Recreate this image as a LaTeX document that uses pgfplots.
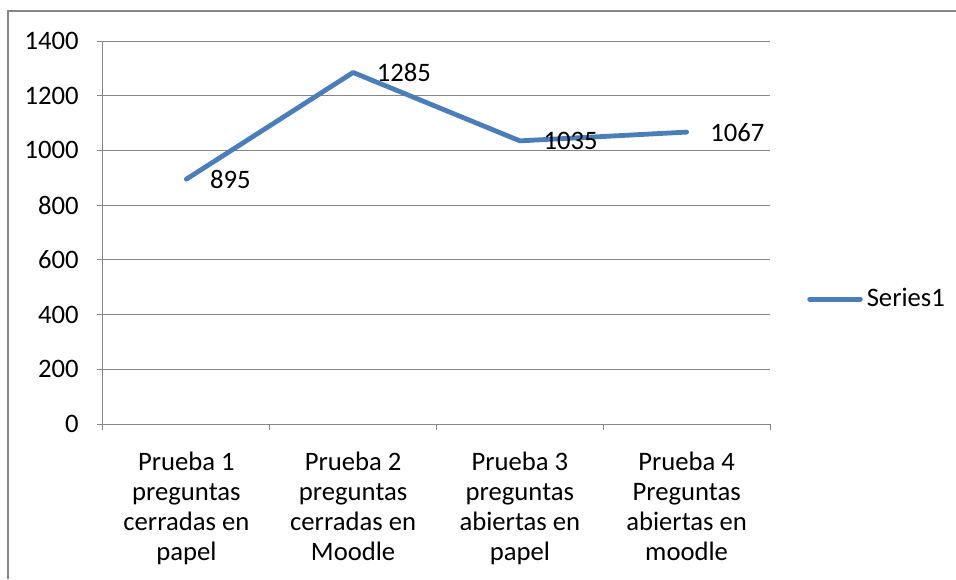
\documentclass[border=0pt]{standalone}
\usepackage{pgfplots}
\pgfplotsset{compat=1.18}
\usepackage{fontspec}
\setmainfont{Carlito}
\definecolor{serieblue}{HTML}{4A7EBB}
\definecolor{axgray}{HTML}{868686}

\begin{document}
\fontsize{20pt}{22.5pt}\selectfont
\begin{tikzpicture}
  \useasboundingbox (-77.25pt,-116.25pt) rectangle (639.75pt,318pt);
  % chart area frame (only left and top edges are visible)
  \draw[axgray, line width=0.9pt] (-71.25pt,-116.25pt) -- (-71.25pt,309.75pt) -- (639.75pt,309.75pt);
  \begin{axis}[
    at={(0pt,0pt)}, anchor=south west,
    scale only axis, width=500.25pt, height=287.25pt,
    xmin=0.5, xmax=4.5, ymin=0, ymax=1400,
    axis x line*=bottom, axis y line*=left,
    axis line style={axgray, line width=0.75pt},
    xtick={1,2,3,4},
    xticklabels={
      {Prueba 1\\preguntas\\cerradas en\\papel},
      {Prueba 2\\preguntas\\cerradas en\\Moodle},
      {Prueba 3\\preguntas\\abiertas en\\papel},
      {Prueba 4\\Preguntas\\abiertas en\\moodle}},
    xticklabel style={align=center, inner sep=0pt, yshift=-16pt},
    major x tick style={draw=none},
    minor xtick={0.5,1.5,2.5,3.5,4.5},
    minor x tick style={axgray, line width=0.75pt},
    minor tick length=4.5pt,
    ytick={0,200,...,1400},
    yticklabel style={inner sep=0pt, xshift=-13.5pt},
    major y tick style={axgray, line width=0.75pt},
    major tick length=4.5pt,
    tick align=outside,
    ymajorgrids, grid style={axgray, line width=0.75pt},
    /pgf/number format/.cd, assume math mode=true, 1000 sep={},
    /pgfplots/.cd,
    nodes near coords,
    every node near coord/.style={anchor=west, inner sep=0pt, xshift=16pt, black},
    legend style={at={(1.0555,0.326)}, anchor=west, draw=none, fill=none,
      inner sep=0pt, nodes={inner sep=0pt, anchor=west}},
    legend cell align=left,
    legend image code/.code={\draw[#1, line cap=round] (0pt,0pt) -- (38pt,0pt);},
  ]
    \addplot[serieblue, line width=3.6pt, line cap=round, line join=round, mark=none]
      coordinates {(1,895) (2,1285) (3,1035) (4,1067)};
    \addlegendentry{\hspace{3pt}Series1}
  \end{axis}
\end{tikzpicture}
\end{document}
